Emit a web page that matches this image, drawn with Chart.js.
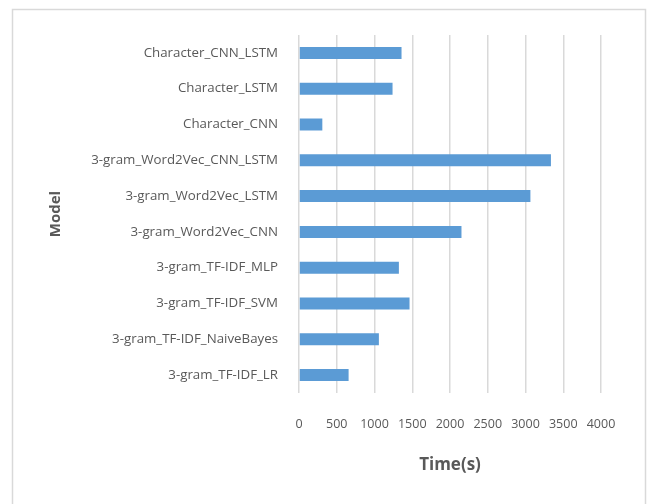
<!DOCTYPE html>
<html>
<head>
<meta charset="utf-8">
<script src="https://cdn.jsdelivr.net/npm/chart.js@4"></script>
<style>
  html, body { margin: 0; padding: 0; background: #ffffff; }
  #wrap { width: 651px; height: 504px; position: relative; }
</style>
</head>
<body>
<div id="wrap"><canvas id="chart" width="651" height="504"></canvas></div>
<script>
// Training time per model, in seconds
const models = [
  'Character_CNN_LSTM',
  'Character_LSTM',
  'Character_CNN',
  '3-gram_Word2Vec_CNN_LSTM',
  '3-gram_Word2Vec_LSTM',
  '3-gram_Word2Vec_CNN',
  '3-gram_TF-IDF_MLP',
  '3-gram_TF-IDF_SVM',
  '3-gram_TF-IDF_NaiveBayes',
  '3-gram_TF-IDF_LR'
];
const timeSeconds = [1358, 1239, 309, 3337, 3065, 2152, 1323, 1464, 1058, 657];
const xMin = 0;
const xMax = 4000;
const xStep = 500;

const textColor = '#595959';
const gridColor = '#d9d9d9';
const barColor = '#5b9bd5';

// Light frame around the whole chart
const framePlugin = {
  id: 'frame',
  beforeDraw(chart) {
    const ctx = chart.ctx;
    ctx.save();
    ctx.fillStyle = '#ffffff';
    ctx.fillRect(0, 0, chart.width, chart.height);
    ctx.strokeStyle = '#d9d9d9';
    ctx.lineWidth = 1.5;
    ctx.strokeRect(12.5, 9.5, 633, 520);
    ctx.restore();
  }
};

new Chart(document.getElementById('chart'), {
  type: 'bar',
  data: {
    labels: models,
    datasets: [{
      label: 'Time(s)',
      data: timeSeconds,
      backgroundColor: barColor,
      borderWidth: 0,
      categoryPercentage: 1,
      barPercentage: 0.335
    }]
  },
  options: {
    indexAxis: 'y',
    responsive: false,
    animation: false,
    layout: { padding: { left: 43, right: 50, top: 35, bottom: 25 } },
    plugins: {
      legend: { display: false },
      tooltip: { enabled: false }
    },
    scales: {
      x: {
        min: xMin,
        max: xMax,
        ticks: {
          stepSize: xStep,
          color: textColor,
          padding: 24,
          maxRotation: 0,
          font: { family: 'Open Sans', size: 12.5 },
          callback: (value) => String(value)
        },
        grid: { color: gridColor, lineWidth: 1.5, drawTicks: false },
        border: { display: false },
        title: {
          display: true,
          text: 'Time(s)',
          color: textColor,
          font: { family: 'Open Sans', size: 17, weight: 'bold' }
        },
        afterFit(scale) { scale.height = 86; }
      },
      y: {
        ticks: {
          color: textColor,
          padding: 21,
          font: { family: 'Open Sans', size: 13.3 }
        },
        grid: { display: false, drawTicks: false },
        border: { display: false },
        title: {
          display: true,
          text: 'Model',
          color: textColor,
          font: { family: 'Open Sans', size: 15, weight: 'bold' }
        },
        afterFit(scale) { scale.width = 256; }
      }
    }
  },
  plugins: [framePlugin]
});
</script>
</body>
</html>
